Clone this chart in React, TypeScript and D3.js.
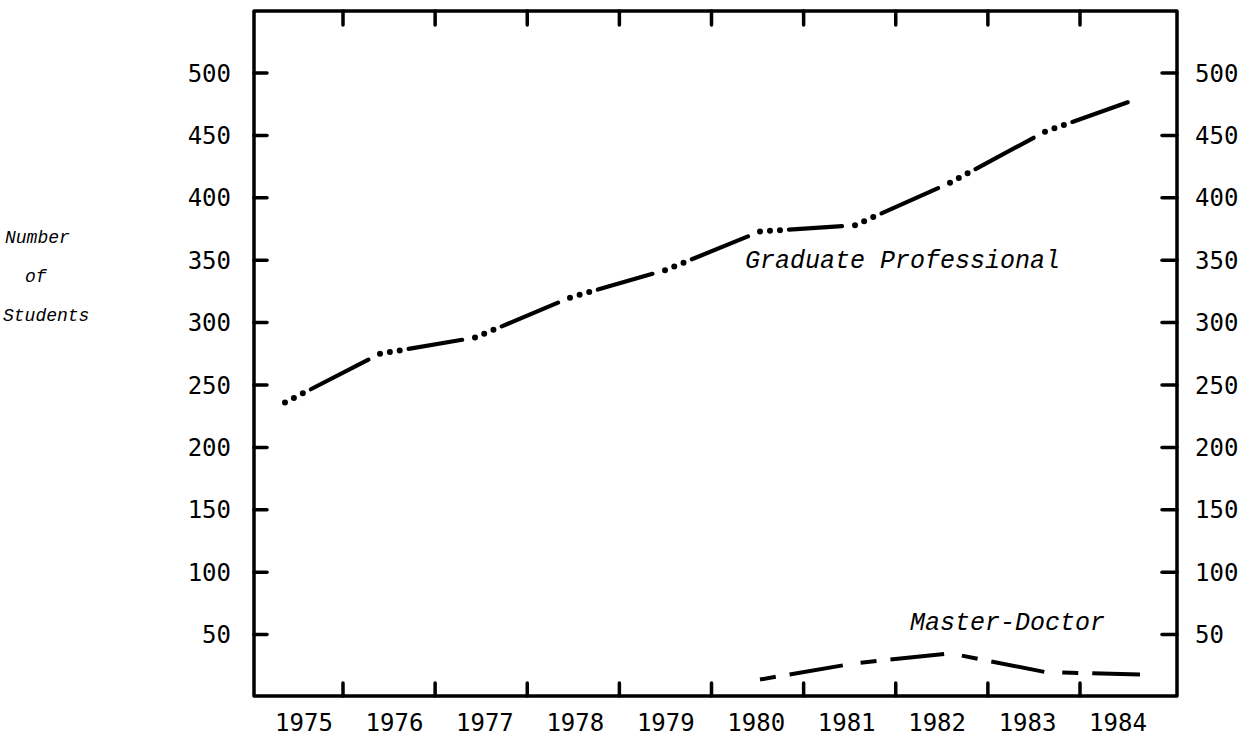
import React from "react";
import * as d3 from "d3";

const years = [1975, 1976, 1977, 1978, 1979, 1980, 1981, 1982, 1983, 1984];
const gradProfessional = [236, 275, 288, 320, 342, 373, 378, 412, 453, 480];
const masterYears = [1980, 1981, 1982, 1983, 1984];
const masterDoctor = [14, 27, 35, 20, 18];
const yTicks = [50, 100, 150, 200, 250, 300, 350, 400, 450, 500];
const tickYears = [1975.5, 1976.5, 1977.5, 1978.5, 1979.5, 1980.5, 1981.5, 1982.5, 1983.5];
const yTitle = ["Number", "of", "Students"];

const W = 1256;
const H = 739;
const frame = { left: 254, right: 1177, top: 11, bottom: 696 };

export default function App() {
  const y = d3.scaleLinear().domain([0, 550]).range([697, 10.6]);
  const xLine = d3.scaleLinear().domain([1975, 1984]).range([285, 1140]);
  const xLabel = d3.scaleLinear().domain([1975, 1984]).range([304, 1118]);
  const xTick = d3.scaleLinear().domain([1975.5, 1983.5]).range([343, 1080]);

  const line = d3
    .line<[number, number]>()
    .x((d) => xLine(d[0]))
    .y((d) => y(d[1]));

  const gpPts: [number, number][] = years.map((yr, i) => [yr, gradProfessional[i]]);
  const gpSegs = d3.pairs(gpPts).map(([a, b]) => {
    const dx = xLine(b[0]) - xLine(a[0]);
    const dy = y(b[1]) - y(a[1]);
    const L = Math.sqrt(dx * dx + dy * dy);
    return { d: line([a, b]) as string, L };
  });

  const mdPts: [number, number][] = masterYears.map((yr, i) => [yr, masterDoctor[i]]);

  const numFont = "'DejaVu Sans Mono', monospace";
  const itFont = "'Liberation Mono', 'Courier New', monospace";
  const titlePos = [
    { x: 5, y: 243 },
    { x: 25, y: 282 },
    { x: 3, y: 321 },
  ];

  return (
    <svg
      width={W}
      height={H}
      style={{ position: "absolute", left: 0, top: 0, background: "#fff" }}
    >
      <rect x={0} y={0} width={W} height={H} fill="#fff" />
      {/* frame */}
      <path
        d={`M${frame.left},${frame.bottom} L${frame.left},${frame.top} L${frame.right},${frame.top} L${frame.right},${frame.bottom} Z`}
        fill="none"
        stroke="#000"
        strokeWidth={3.5}
        strokeLinejoin="round"
      />
      {/* y ticks left & right */}
      {yTicks.map((t) => (
        <g key={"yt" + t}>
          <line x1={frame.left} x2={frame.left + 13} y1={y(t)} y2={y(t)} stroke="#000" strokeWidth={3.5} strokeLinecap="round" />
          <line x1={frame.right} x2={frame.right - 15} y1={y(t)} y2={y(t)} stroke="#000" strokeWidth={3.5} strokeLinecap="round" />
          <text x={231} y={y(t)} dy="0.36em" textAnchor="end" fontFamily={numFont} fontSize={24} fill="#000">
            {t}
          </text>
          <text x={1195} y={y(t)} dy="0.36em" textAnchor="start" fontFamily={numFont} fontSize={24} fill="#000">
            {t}
          </text>
        </g>
      ))}
      {/* x ticks top & bottom */}
      {tickYears.map((t) => (
        <g key={"xt" + t}>
          <line x1={xTick(t)} x2={xTick(t)} y1={frame.top} y2={frame.top + 14} stroke="#000" strokeWidth={3.5} strokeLinecap="round" />
          <line x1={xTick(t)} x2={xTick(t)} y1={frame.bottom} y2={frame.bottom - 13} stroke="#000" strokeWidth={3.5} strokeLinecap="round" />
        </g>
      ))}
      {/* x labels */}
      {years.map((yr) => (
        <text key={"xl" + yr} x={xLabel(yr)} y={731} textAnchor="middle" fontFamily={numFont} fontSize={24} fill="#000">
          {yr}
        </text>
      ))}
      {/* y axis title */}
      {yTitle.map((w, i) => (
        <text key={"ti" + i} x={titlePos[i].x} y={titlePos[i].y} fontFamily={itFont} fontStyle="italic" fontSize={18} fill="#000">
          {w}
        </text>
      ))}

      {/* Graduate Professional line: three dots then a dash on each segment */}
      {gpSegs.map((s, i) => (
        <g key={"gp" + i}>
          <path
            d={s.d}
            fill="none"
            stroke="#000"
            strokeWidth={6}
            strokeLinecap="round"
            strokeDasharray={`0,10,0,10,0,${s.L + 20}`}
          />
          <path
            d={s.d}
            fill="none"
            stroke="#000"
            strokeWidth={4.2}
            strokeLinecap="round"
            strokeDasharray={`0,29,${Math.max(s.L - 29 - 13, 5)},200`}
          />
        </g>
      ))}
      {/* Master-Doctor dashed line */}
      <path
        d={line(mdPts) as string}
        fill="none"
        stroke="#000"
        strokeWidth={4}
        strokeLinecap="butt"
        strokeDasharray="16,14,54,18"
      />

      <text x={745} y={268} fontFamily={itFont} fontStyle="italic" fontSize={25} fill="#000">
        Graduate Professional
      </text>
      <text x={910} y={630} fontFamily={itFont} fontStyle="italic" fontSize={25} fill="#000">
        Master-Doctor
      </text>
    </svg>
  );
}
